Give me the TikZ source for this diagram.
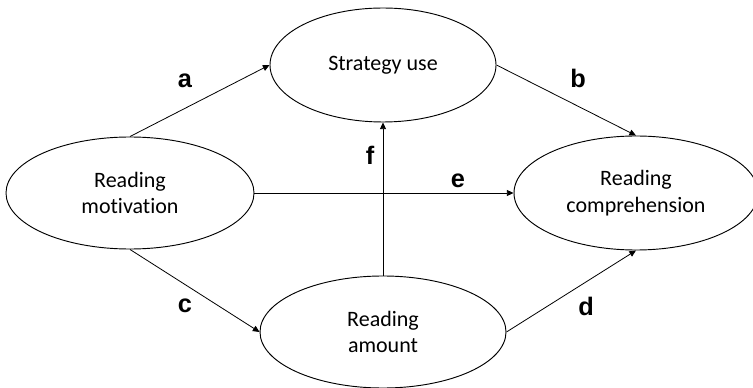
\documentclass[tikz,border=0pt]{standalone}
\usepackage{fontspec}
\setmainfont{Carlito}[Ligatures={NoCommon,NoRare,NoContextual}]
\newfontfamily\pathfont{Liberation Sans}
\usetikzlibrary{shapes.geometric,arrows.meta}

\tikzset{
  construct/.style={draw, ellipse, inner sep=0pt, line width=0.7pt, align=center, font=\fontsize{16.5}{20}\selectfont},
  path arrow/.style={-{Triangle[length=5pt,width=4.5pt]}, line width=0.6pt},
  path label/.style={font=\pathfont\bfseries\fontsize{19}{22}\selectfont, inner sep=0.75pt}
}

\begin{document}
\begin{tikzpicture}[x=0.75pt,y=0.75pt,yscale=-1,xscale=1]
    \useasboundingbox (0,0) rectangle (753,388);

    % Ellipses
    \node [construct, minimum width=169.5pt, minimum height=85.5pt] (strategy) at (383,65) {Strategy use};
    \node [construct, minimum width=186pt, minimum height=84pt] (motivation) at (130,193) {Reading\\motivation};
    \node [construct, minimum width=183pt, minimum height=85.5pt] (comprehension) at (636,193) {Reading\\comprehension};
    \node [construct, minimum width=184.5pt, minimum height=84pt] (amount) at (383,332) {Reading\\amount};

    % Paths
    \draw [path arrow] (motivation.north) -- (strategy.west);
    \draw [path arrow] (strategy.east) -- (comprehension.north);
    \draw [path arrow] (motivation.south) -- (amount.west);
    \draw [path arrow] (amount.east) -- (comprehension.south);
    \draw [path arrow] (motivation.east) -- (comprehension.west);
    \draw [path arrow] (amount.north) -- (strategy.south);

    % Text Node
    \node [path label] (la) at (185,81) {a};
    % Text Node
    \node [path label] (lb) at (578,78) {b};
    % Text Node
    \node [path label] (lc) at (185,306) {c};
    % Text Node
    \node [path label] (ld) at (586,306) {d};
    % Text Node
    \node [path label] (le) at (458,181) {e};
    % Text Node
    \node [path label] (lf) at (370,155) {f};

\end{tikzpicture}
\end{document}
